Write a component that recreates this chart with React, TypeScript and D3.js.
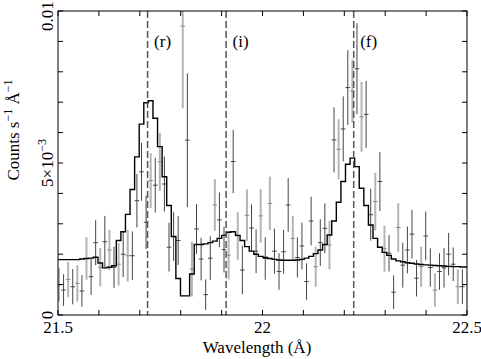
import React from "react";
import * as d3 from "d3";

// Spectrum bins (Å)
const binStart = 21.49682;
const binWidth = 0.011208;

// Observed counts (units of 1e-3 counts s^-1 Å^-1)
const dataCounts = [
  0.99, 0.82, 1.17, 0.93, 1.04, 0.79, 1.86, 1.26, 2.38, 1.57,
  2.41, 2.14, 1.57, 1.67, 2.0, 1.95, 1.95, 3.76, 4.71, 3.05,
  4.42, 4.27, 5.04, 4.31, 2.23, 2.58, 2.45, 9.5, 5.75, 1.51,
  2.83, 1.84, 0.67, 1.87, 3.62, 3.13, 2.15, 1.97, 5.05, 2.6,
  1.48, 3.28, 2.86, 2.1, 3.26, 1.86, 3.67, 2.1, 1.43, 2.08,
  3.62, 2.52, 1.89, 2.27, 1.1, 3.09, 1.59, 2.38, 2.85, 2.3,
  5.76, 5.45, 6.12, 7.48, 7.37, 8.1, 6.52, 6.6, 3.3, 3.73,
  4.39, 2.18, 2.03, 0.75, 2.88, 1.64, 2.14, 2.66, 1.21, 1.59,
  2.6, 1.56, 0.82, 1.43, 1.55, 2.0, 1.67, 0.93, 0.93,
];
const dataErrors = [
  0.55, 0.52, 0.58, 0.58, 0.6, 0.52, 0.7, 0.6, 0.74, 0.63,
  0.85, 0.66, 0.68, 0.7, 0.75, 0.85, 0.8, 0.88, 0.95, 0.88,
  0.9, 0.9, 0.95, 0.9, 0.8, 0.8, 0.8, 2.7, 2.2, 0.9,
  0.82, 0.7, 0.5, 0.72, 0.85, 0.9, 0.75, 0.8, 1.04, 0.78,
  0.8, 0.85, 0.78, 0.72, 0.88, 0.7, 0.88, 0.74, 0.6, 0.72,
  0.88, 0.74, 0.66, 0.77, 0.6, 0.8, 0.66, 0.77, 0.82, 0.8,
  1.07, 0.99, 1.07, 1.23, 1.04, 1.5, 1.15, 1.1, 0.85, 0.95,
  0.97, 0.76, 0.6, 0.55, 0.8, 0.74, 0.77, 0.8, 0.6, 0.66,
  0.8, 0.63, 0.55, 0.6, 0.65, 0.7, 0.55, 0.57, 0.57,
];
// Which spectrum each point belongs to (1 = second, grey)
const dataSet = [
  1, 0, 1, 0, 1, 0, 1, 0, 0, 1,
  0, 1, 0, 1, 0, 1, 0, 0, 0, 0,
  1, 0, 1, 0, 0, 0, 0, 1, 0, 1,
  0, 0, 0, 0, 1, 0, 0, 1, 0, 1,
  0, 1, 0, 0, 1, 0, 1, 0, 0, 0,
  0, 1, 0, 0, 0, 0, 1, 0, 0, 1,
  0, 1, 0, 0, 1, 0, 1, 0, 0, 1,
  0, 1, 0, 0, 1, 0, 0, 0, 0, 1,
  0, 0, 1, 0, 0, 0, 0, 1, 0,
];
// Model (units of 1e-3)
const modelCounts = [
  1.82, 1.82, 1.82, 1.82, 1.82, 1.84, 1.86, 1.87, 1.9, 1.71,
  1.55, 1.57, 1.62, 2.45, 2.74, 3.31, 4.13, 5.2, 6.28, 6.98,
  7.05, 6.47, 5.54, 4.55, 3.6, 2.58, 1.2, 0.63, 0.63, 1.35,
  2.32, 2.32, 2.34, 2.38, 2.43, 2.52, 2.62, 2.72, 2.74, 2.62,
  2.45, 2.25, 2.1, 2.0, 1.93, 1.89, 1.86, 1.83, 1.81, 1.8,
  1.8, 1.8, 1.81, 1.83, 1.87, 1.93, 2.02, 2.14, 2.32, 2.63,
  3.09, 3.71, 4.39, 4.96, 5.16, 4.88, 4.17, 3.6, 2.96, 2.52,
  2.23, 2.06, 1.96, 1.84, 1.78, 1.75, 1.72, 1.7, 1.68, 1.66,
  1.65, 1.64, 1.63, 1.62, 1.61, 1.6, 1.59, 1.59, 1.58, 1.58,
];

const lineLabels = ["(r)", "(i)", "(f)"];
const linePositions = [21.719, 21.911, 22.223];

const xTickValues = d3.range(0, 11).map((i) => 21.5 + i * 0.1);
const yTickValues = d3.range(0, 11); // 1e-3 units
const xTickLabels = [
  { v: 21.5, t: "21.5" },
  { v: 22, t: "22" },
  { v: 22.5, t: "22.5" },
];

const W = 481;
const H = 359;
const L = 58, R = 467, T = 11, B = 315;
const FONT = "'Liberation Serif', 'Times New Roman', Times, serif";

export default function App() {
  const x = d3.scaleLinear().domain([21.5, 22.5]).range([L, R]);
  const y = d3.scaleLinear().domain([0, 10]).range([B, T]);

  const modelPts: [number, number][] = [];
  modelCounts.forEach((v, i) => {
    const a = binStart + i * binWidth;
    modelPts.push([a, v], [a + binWidth, v]);
  });
  const modelPath = d3
    .line<[number, number]>()
    .x((d) => x(d[0]))
    .y((d) => y(d[1]))(modelPts) as string;

  const tickLen = 5;

  return (
    <svg
      width={W}
      height={H}
      style={{ position: "absolute", left: 0, top: 0, background: "#fff" }}
      fontFamily={FONT}
    >
      <defs>
        <clipPath id="plotclip">
          <rect x={L} y={T} width={R - L} height={B - T} />
        </clipPath>
      </defs>
      <rect x={0} y={0} width={W} height={H} fill="#fff" />
      <g clipPath="url(#plotclip)">
        {dataCounts.map((v, i) => {
          const c = binStart + (i + 0.5) * binWidth;
          const e = dataErrors[i];
          const grey = dataSet[i] === 1;
          const col = grey ? "#b4b4b4" : "#444";
          const sw = grey ? 2 : 1;
          return (
            <g key={i} stroke={col} strokeWidth={sw}>
              <line x1={x(c)} x2={x(c)} y1={y(v - e)} y2={y(v + e)} />
              <line
                x1={x(c - binWidth / 2)}
                x2={x(c + binWidth / 2)}
                y1={y(v)}
                y2={y(v)}
                strokeWidth={1}
                stroke={grey ? "#8a8a8a" : "#444"}
              />
            </g>
          );
        })}
        <path d={modelPath} fill="none" stroke="#000" strokeWidth={1.4} />
        {linePositions.map((w, i) => (
          <line
            key={i}
            x1={x(w)}
            x2={x(w)}
            y1={T}
            y2={B}
            stroke="#555"
            strokeWidth={1.5}
            strokeDasharray="7,3"
          />
        ))}
      </g>
      {linePositions.map((w, i) => (
        <text key={i} x={x(w) + 6.5} y={46.5} fontSize={17} fill="#000">
          {lineLabels[i]}
        </text>
      ))}
      <rect x={L} y={T} width={R - L} height={B - T} fill="none" stroke="#000" strokeWidth={1} />
      {xTickValues.map((v, i) => (
        <g key={i} stroke="#000" strokeWidth={1}>
          <line x1={x(v)} x2={x(v)} y1={B} y2={B - tickLen} />
          <line x1={x(v)} x2={x(v)} y1={T} y2={T + tickLen} />
        </g>
      ))}
      {yTickValues.map((v, i) => (
        <g key={i} stroke="#000" strokeWidth={1}>
          <line x1={L} x2={L + tickLen} y1={y(v)} y2={y(v)} />
          <line x1={R} x2={R - tickLen} y1={y(v)} y2={y(v)} />
        </g>
      ))}
      {xTickLabels.map((d, i) => (
        <text key={i} x={x(d.v)} y={333} fontSize={17} textAnchor="middle" fill="#000">
          {d.t}
        </text>
      ))}
      <text transform={`translate(53,${y(0)}) rotate(-90)`} fontSize={17} textAnchor="middle">
        0
      </text>
      <text transform={`translate(53,${y(5)}) rotate(-90)`} fontSize={17} textAnchor="middle">
        5×10<tspan dy={-7} fontSize={12}>−3</tspan>
      </text>
      <text transform={`translate(53,${y(10) + 5}) rotate(-90)`} fontSize={17} textAnchor="middle">
        0.01
      </text>
      <text transform="translate(19,130) rotate(-90)" fontSize={17} textAnchor="middle">
        Counts s<tspan dy={-7} fontSize={12}>−1</tspan>
        <tspan dy={7}> Å</tspan>
        <tspan dy={-7} fontSize={12}>−1</tspan>
      </text>
      <text x={257} y={353} fontSize={17} textAnchor="middle">
        Wavelength (Å)
      </text>
    </svg>
  );
}
